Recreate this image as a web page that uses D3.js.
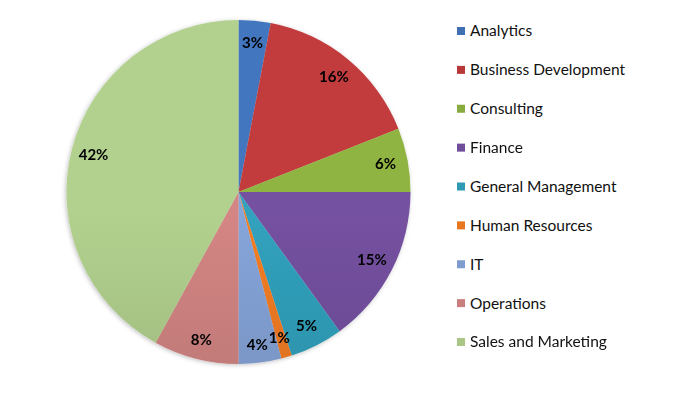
<!DOCTYPE html>
<html>
<head>
<meta charset="utf-8">
<script src="https://cdn.jsdelivr.net/npm/d3@7"></script>
<style>
  body { margin: 0; background: #fff; }
  svg { display: block; }
</style>
</head>
<body>
<div id="chart"></div>
<script>
const categories = ['Analytics', 'Business Development', 'Consulting', 'Finance', 'General Management',
  'Human Resources', 'IT', 'Operations', 'Sales and Marketing'];
const shares = [3, 16, 6, 15, 5, 1, 4, 8, 42];
const colors = ['#3f70b4', '#b8383a', '#88ab3f', '#6f4d99', '#2e9ab4', '#e87722', '#7f9ccf', '#c97f7d', '#a9c687'];

const width = 673, height = 397;
const cx = 238.5, cy = 192, radius = 172;

const svg = d3.select('#chart').append('svg')
  .attr('width', width)
  .attr('height', height);

const defs = svg.append('defs');

// soft shadow like the office chart
const shadow = defs.append('filter').attr('id', 'shadow')
  .attr('x', '-10%').attr('y', '-10%').attr('width', '120%').attr('height', '120%');
shadow.append('feDropShadow')
  .attr('dx', -1).attr('dy', 1).attr('stdDeviation', 2)
  .attr('flood-color', '#000').attr('flood-opacity', 0.25);

// vertical gradient per slice, lighter on top, darker at the bottom
colors.forEach((c, i) => {
  const g = defs.append('linearGradient')
    .attr('id', 'grad' + i)
    .attr('gradientUnits', 'userSpaceOnUse')
    .attr('x1', 0).attr('y1', cy - radius)
    .attr('x2', 0).attr('y2', cy + radius);
  g.append('stop').attr('offset', '0%').attr('stop-color', d3.color(c).brighter(0.15));
  g.append('stop').attr('offset', '100%').attr('stop-color', d3.color(c).darker(0.45));
});

const data = categories.map((name, i) => ({ name, value: shares[i], idx: i }));

const pie = d3.pie()
  .value(d => d.value)
  .sort(null);

const arc = d3.arc()
  .innerRadius(0)
  .outerRadius(radius);

const labelArc = d3.arc()
  .innerRadius(radius * 0.87)
  .outerRadius(radius * 0.87);

const arcs = pie(data);

const pieG = svg.append('g')
  .attr('filter', 'url(#shadow)');

pieG.selectAll('path')
  .data(arcs)
  .enter().append('path')
  .attr('d', arc)
  .attr('transform', `translate(${cx},${cy})`)
  .attr('fill', d => `url(#grad${d.data.idx})`);

// nudge a few labels the way the original "best fit" did
const labelShift = { 5: [-1, 2], 6: [0, 4], 7: [0, 3] };

svg.append('g')
  .selectAll('text')
  .data(arcs)
  .enter().append('text')
  .attr('transform', d => {
    const [x, y] = labelArc.centroid(d);
    const s = labelShift[d.data.idx] || [0, 0];
    return `translate(${cx + x + s[0]},${cy + y + s[1]})`;
  })
  .attr('text-anchor', 'middle')
  .attr('dy', '0.35em')
  .style('font-family', 'Lato, "Open Sans", sans-serif')
  .style('font-size', '15px')
  .style('font-weight', 'bold')
  .style('fill', '#000')
  .text(d => d.data.value + '%');

// legend
const legendY = d3.scalePoint()
  .domain(categories)
  .range([31, 342]);

const legend = svg.append('g')
  .selectAll('g')
  .data(data)
  .enter().append('g')
  .attr('transform', d => `translate(457,${legendY(d.name)})`);

legend.append('rect')
  .attr('x', 0)
  .attr('y', -4)
  .attr('width', 8)
  .attr('height', 8)
  .attr('fill', d => colors[d.idx]);

legend.append('text')
  .attr('x', 13)
  .attr('dy', '0.35em')
  .style('font-family', 'Lato, "Open Sans", sans-serif')
  .style('font-size', '15.5px')
  .style('fill', '#111')
  .text(d => d.name);
</script>
</body>
</html>
